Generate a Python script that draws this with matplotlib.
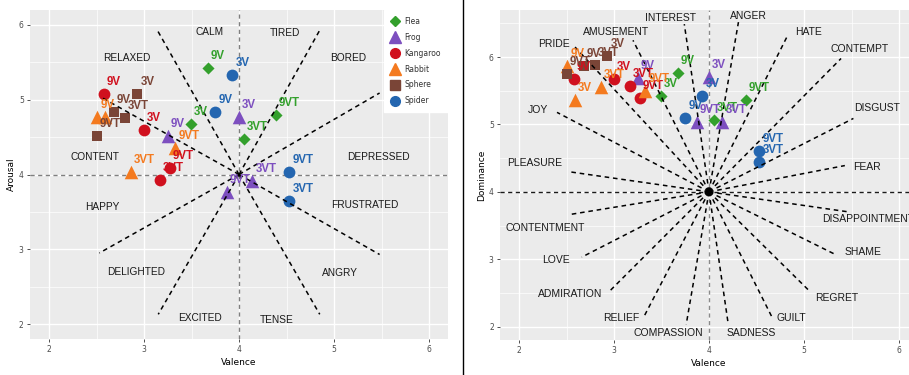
import numpy as np
import matplotlib.pyplot as plt
from matplotlib.lines import Line2D

# ratings per stimulus group and condition
groups = ["Flea", "Frog", "Kangaroo", "Rabbit", "Sphere", "Spider"]
conditions = ["3V", "9V", "3VT", "9VT"]

valence = {
    "Flea":     [3.49, 3.67, 4.05, 4.39],
    "Frog":     [4.00, 3.25, 4.14, 3.87],
    "Kangaroo": [3.00, 2.58, 3.17, 3.27],
    "Rabbit":   [2.59, 2.51, 2.86, 3.33],
    "Sphere":   [2.93, 2.68, 2.80, 2.50],
    "Spider":   [3.93, 3.75, 4.53, 4.53],
}
arousal = {
    "Flea":     [4.68, 5.43, 4.47, 4.79],
    "Frog":     [4.77, 4.51, 3.91, 3.76],
    "Kangaroo": [4.59, 5.08, 3.93, 4.09],
    "Rabbit":   [4.77, 4.77, 4.03, 4.35],
    "Sphere":   [5.08, 4.83, 4.76, 4.51],
    "Spider":   [5.33, 4.83, 3.64, 4.03],
}
dominance = {
    "Flea":     [5.42, 5.76, 5.07, 5.36],
    "Frog":     [5.70, 5.69, 5.03, 5.04],
    "Kangaroo": [5.67, 5.67, 5.57, 5.40],
    "Rabbit":   [5.37, 5.87, 5.55, 5.49],
    "Sphere":   [6.01, 5.87, 5.88, 5.75],
    "Spider":   [5.43, 5.09, 4.45, 4.60],
}

# circumplex spokes: end of each dashed line and where its word sits
va_words = ["CALM", "TIRED", "BORED", "RELAXED", "CONTENT", "DEPRESSED",
            "HAPPY", "DELIGHTED", "EXCITED", "TENSE", "ANGRY", "FRUSTRATED"]
va_word_x = [3.69, 4.48, 5.15, 2.82, 2.48, 5.47, 2.56, 2.92, 3.59, 4.40, 5.06, 5.32]
va_word_y = [5.90, 5.89, 5.56, 5.56, 4.23, 4.24, 3.57, 2.69, 2.08, 2.05, 2.68, 3.59]
va_spoke_x = [3.14, 4.85, 5.48, 2.54, 2.53, 3.15, 4.85, 5.48]
va_spoke_y = [5.93, 5.93, 5.09, 5.04, 2.95, 2.13, 2.13, 2.93]

vd_words = ["PRIDE", "AMUSEMENT", "INTEREST", "ANGER", "HATE", "CONTEMPT",
            "DISGUST", "FEAR", "DISAPPOINTMENT", "SHAME", "REGRET", "GUILT",
            "SADNESS", "COMPASSION", "RELIEF", "ADMIRATION", "LOVE",
            "CONTENTMENT", "PLEASURE", "JOY"]
vd_word_x = [2.37, 3.02, 3.60, 4.42, 5.05, 5.59, 5.77, 5.66, 5.67, 5.62,
             5.34, 4.87, 4.45, 3.57, 3.08, 2.54, 2.39, 2.28, 2.16, 2.20]
vd_word_y = [6.19, 6.37, 6.58, 6.61, 6.37, 6.12, 5.25, 4.37, 3.60, 3.10,
             2.43, 2.13, 1.90, 1.90, 2.12, 2.48, 2.99, 3.46, 4.43, 5.22]
vd_spoke_x = [2.59, 3.20, 3.74, 4.31, 4.82, 5.39, 5.52, 5.43, 5.48, 5.33,
              5.07, 4.67, 4.20, 3.76, 3.32, 2.95, 2.66, 2.52, 2.52, 2.40]
vd_spoke_y = [6.15, 6.25, 6.49, 6.52, 6.30, 5.98, 5.09, 4.39, 3.70, 3.07,
              2.51, 2.12, 2.06, 2.03, 2.16, 2.52, 3.03, 3.66, 4.30, 5.18]

colors = {"Flea": "#33a02c", "Frog": "#7d4fbf", "Kangaroo": "#d0101e",
          "Rabbit": "#f47a1f", "Sphere": "#7a4537", "Spider": "#2466b0"}
markers = {"Flea": "D", "Frog": "^", "Kangaroo": "o", "Rabbit": "^",
           "Sphere": "s", "Spider": "o"}
msizes = {"D": 38, "^": 95, "o": 72, "s": 60}

fig = plt.figure(figsize=(9.09, 3.75), dpi=100)
W, H = 909, 375


def panel(left_px, top_px, width_px, height_px):
    return fig.add_axes([left_px / W, 1 - (top_px + height_px) / H,
                         width_px / W, height_px / H])


def style(ax, ylim, ylabel):
    ax.set_facecolor("#EBEBEB")
    ax.set_xlim(1.8, 6.2)
    ax.set_ylim(*ylim)
    ax.set_xticks([2, 3, 4, 5, 6])
    ax.set_xticks(np.arange(2.5, 6.0, 1.0), minor=True)
    yt = np.arange(2, int(ylim[1]) + 1)
    ax.set_yticks(yt)
    ax.set_yticks(np.arange(2.5, ylim[1], 1.0), minor=True)
    ax.grid(which="major", color="white", lw=1.0)
    ax.grid(which="minor", color="white", lw=0.5)
    ax.set_axisbelow(True)
    for s in ax.spines.values():
        s.set_visible(False)
    ax.tick_params(which="major", length=2.5, width=0.6, color="#333333",
                   labelsize=5.5, labelcolor="#4D4D4D", pad=2)
    ax.tick_params(which="minor", length=0)
    ax.set_xlabel("Valence", fontsize=6.5, labelpad=3)
    ax.set_ylabel(ylabel, fontsize=6.5, labelpad=2)


def spokes(ax, xs, ys):
    for x, y in zip(xs, ys):
        ax.plot([4, x], [4, y], color="black", lw=1.1,
                linestyle=(0, (3, 2.5)), zorder=3)


def words(ax, labels, xs, ys, size):
    for t, x, y in zip(labels, xs, ys):
        ax.text(x, y, t, fontsize=size, ha="center", va="center",
                color="#1a1a1a", family="Liberation Sans", zorder=4)


def points(ax, yvals, hidden=()):
    for g in groups:
        ax.scatter(valence[g], yvals[g], marker=markers[g],
                   s=msizes[markers[g]], color=colors[g], linewidths=0,
                   zorder=2, label=g)
    for g in groups:
        for c, x, y in zip(conditions, valence[g], yvals[g]):
            if (g, c) in hidden:
                continue
            ax.annotate(c, (x, y), xytext=(3, 12), textcoords="offset pixels",
                        ha="left", va="center", fontsize=8.3,
                        fontweight="bold", color=colors[g],
                        family="Liberation Sans", zorder=5)


# valence / arousal
ax1 = panel(30, 10, 418, 329)
style(ax1, (1.8, 6.2), "Arousal")
ax1.axhline(4, color="#7f7f7f", lw=1.0, linestyle=(0, (3, 2.5)), zorder=1)
ax1.axvline(4, color="#7f7f7f", lw=1.0, linestyle=(0, (3, 2.5)), zorder=1)
points(ax1, arousal, hidden={("Rabbit", "3V")})
spokes(ax1, va_spoke_x, va_spoke_y)
words(ax1, va_words, va_word_x, va_word_y, 7.3)

handles = [Line2D([], [], marker=markers[g], color=colors[g], linestyle="",
                  markersize={"D": 5.5, "^": 8, "o": 7, "s": 7}[markers[g]])
           for g in groups]
leg = ax1.legend(handles, groups, loc="upper right", borderaxespad=0,
                 fontsize=5.5, frameon=True, facecolor="white",
                 edgecolor="white", framealpha=1, fancybox=False,
                 handlelength=1.2, handletextpad=0.6, labelspacing=0.9,
                 borderpad=0.9)
for t in leg.get_texts():
    t.set_color("#333333")
leg.set_zorder(6)

# valence / dominance
ax2 = panel(500, 10, 418, 330)
style(ax2, (1.8, 6.7), "Dominance")
ax2.axvline(4, color="#8a8a8a", lw=1.0, linestyle=(0, (3, 2.5)), zorder=1)
ax2.axhline(4, color="#1a1a1a", lw=1.0, linestyle=(0, (3, 2.5)), zorder=1)
points(ax2, dominance)
spokes(ax2, vd_spoke_x, vd_spoke_y)
words(ax2, vd_words, vd_word_x, vd_word_y, 7.5)

fig.add_artist(Line2D([463 / W, 463 / W], [0, 1], color="black", lw=1.0))

fig.savefig("out.png", dpi=100)
